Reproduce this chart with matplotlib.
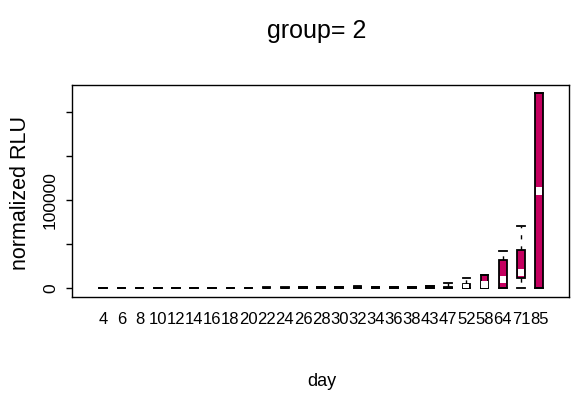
import matplotlib
matplotlib.use('Agg')
import matplotlib.pyplot as plt
from matplotlib.patches import Rectangle

# day groups and box statistics (normalized RLU)
days = [4, 6, 8, 10, 12, 14, 16, 18, 20, 22, 24, 26, 28, 30, 32, 34, 36, 38,
        43, 47, 52, 58, 64, 71, 85]
q1 = [0] * 18 + [0, 0, 0, 300, 500, 12100, 0]
med = [50, 60, 80, 100, 120, 150, 180, 200, 250, 300, 350, 400, 450, 600, 900,
       500, 500, 600, 1200, 1500, 2500, 4300, 10000, 17900, 110600]
q3 = [150, 200, 250, 300, 350, 400, 450, 500, 600, 700, 800, 900, 1000, 1200,
      2000, 1100, 1000, 1200, 2500, 1800, 4900, 15100, 32100, 43500, 222100]
wlo = [0] * 25
whi = [250, 300, 350, 450, 500, 600, 650, 700, 800, 900, 1000, 1100, 1300, 1500,
       2400, 1400, 1300, 1500, 3000, 5700, 12000, 15300, 42700, 70800, 222100]

pink = '#c4005f'
font = ['Liberation Sans', 'DejaVu Sans']

fig = plt.figure(figsize=(5.73, 3.96), dpi=100)
ax = fig.add_axes([72 / 573, 1 - 297 / 396, 497 / 573, 212 / 396])

stats = []
for i in range(len(days)):
    stats.append({'q1': q1[i], 'med': med[i], 'q3': q3[i],
                  'whislo': wlo[i], 'whishi': whi[i], 'fliers': []})

pos = list(range(len(days)))
ax.bxp(stats, positions=pos, widths=0.42, patch_artist=True,
       boxprops=dict(facecolor=pink, edgecolor='black', linewidth=1.3),
       whiskerprops=dict(color='black', linewidth=1.0, linestyle=(0, (3, 5))),
       capprops=dict(color='black', linewidth=1.3),
       medianprops=dict(linewidth=0, color=pink),
       capwidths=0.42)

# white median marker, clipped to the box (only where the box is visible)
mh = 9000
for i in range(len(days)):
    if q3[i] - q1[i] < 3000:
        continue
    lo = max(q1[i], med[i] - mh / 2)
    hi = min(q3[i], med[i] + mh / 2)
    ax.add_patch(Rectangle((pos[i] - 0.17, lo), 0.34, hi - lo,
                           facecolor='white', edgecolor='none', zorder=3))

ax.set_xlim(-1.72, 25.65)
ax.set_ylim(-9900, 231000)

ax.set_xticks(pos)
ax.set_xticklabels([str(d) for d in days], family=font, fontsize=12)
ax.tick_params(axis='x', length=0, pad=11)

ax.set_yticks([0, 50000, 100000, 150000, 200000])
ax.set_yticklabels(['0', '', '100000', '', ''], family=font, fontsize=12.5,
                   rotation=90, va='center')
ax.tick_params(axis='y', length=4, width=1, pad=6)

for s in ax.spines.values():
    s.set_linewidth(1.0)

fig.text(317 / 573, 1 - 31 / 396, 'group= 2', family=font, fontsize=18,
         ha='center', va='center')
fig.text(322 / 573, 1 - 381 / 396, 'day', family=font, fontsize=13,
         ha='center', va='center')
fig.text(21 / 573, 1 - 193 / 396, 'normalized RLU', family=font, fontsize=15.5,
         rotation=90, ha='center', va='center')

fig.savefig('out.png', dpi=100)
